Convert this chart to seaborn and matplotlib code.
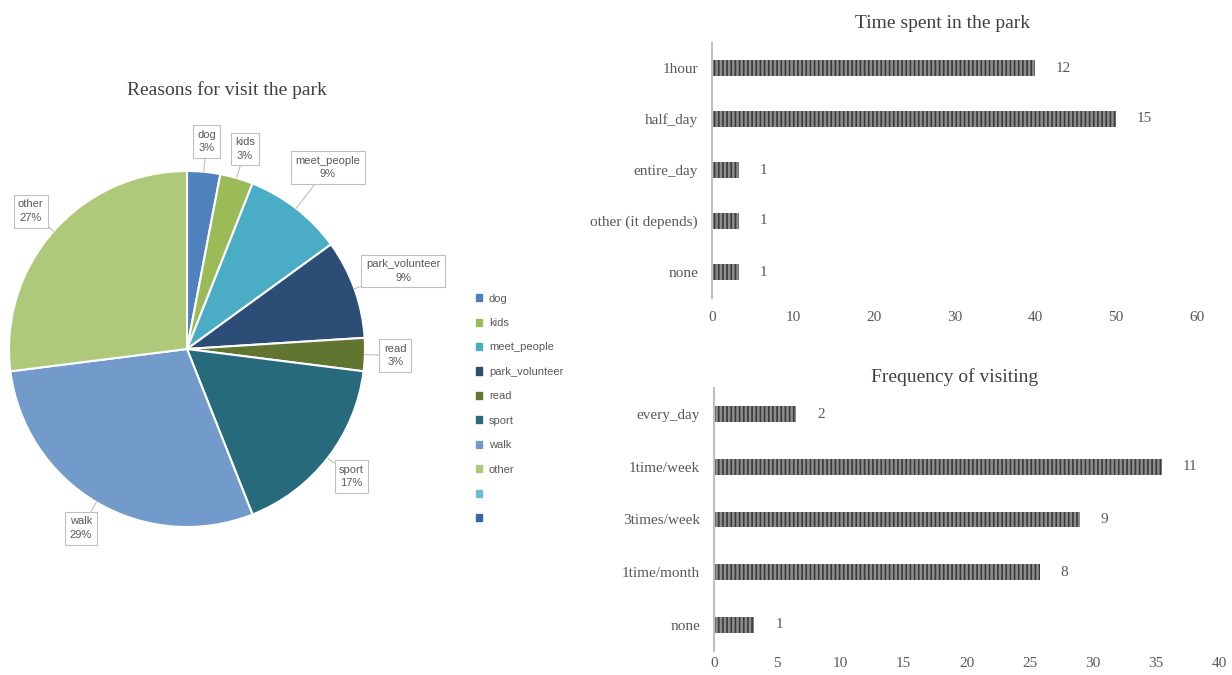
import numpy as np
import matplotlib
matplotlib.use("Agg")
import matplotlib.pyplot as plt
import matplotlib.patches as mpatches
import pandas as pd
import seaborn as sns

# ── data ─────────────────────────────────────────────────────────────────────
reasons = ["dog", "kids", "meet_people", "park_volunteer", "read", "sport", "walk", "other"]
reason_pct = [3, 3, 9, 9, 3, 17, 29, 27]
reason_colors = ["#4F81BD", "#9BBB59", "#4BACC6", "#2C4D75", "#5F7530", "#276A7C", "#729ACA", "#AFC97A"]
extra_legend_colors = ["#6CBCD3", "#3566A6"]

time_cats = ["1hour", "half_day", "entire_day", "other (it depends)", "none"]
time_counts = [12, 15, 1, 1, 1]
time_pct = [40.0, 50.0, 3.3, 3.3, 3.3]

freq_cats = ["every_day", "1time/week", "3times/week", "1time/month", "none"]
freq_counts = [2, 11, 9, 8, 1]
freq_pct = [6.5, 35.5, 29.0, 25.8, 3.2]

# ── style ────────────────────────────────────────────────────────────────────
sns.set_theme(style="white")
plt.rcParams["font.family"] = ["DejaVu Sans"]
plt.rcParams["hatch.linewidth"] = 1.2
TXT = "#595959"
SERIF = "Liberation Serif"
SANS = "Liberation Sans"

fig = plt.figure(figsize=(12.32, 6.75), dpi=100)
W, H = 1232, 675

# ── pie ──────────────────────────────────────────────────────────────────────
ax_pie = fig.add_axes([9 / W, 1 - 527 / H, 356 / W, 356 / H])
wedges, _ = ax_pie.pie(
    reason_pct, colors=reason_colors, startangle=90, counterclock=False,
    wedgeprops=dict(edgecolor="white", linewidth=1.5),
)
ax_pie.set_xlim(-1, 1)
ax_pie.set_ylim(-1, 1)
ax_pie.set_aspect("equal")
ax_pie.axis("off")

for w, name, pct in zip(wedges, reasons, reason_pct):
    mid = np.deg2rad((w.theta1 + w.theta2) / 2)
    r = 1.17 if len(name) <= 5 else 1.29
    ax_pie.annotate(
        f"{name}\n{pct}%",
        xy=(np.cos(mid), np.sin(mid)),
        xytext=(r * np.cos(mid), r * np.sin(mid)),
        ha="center", va="center", fontsize=8, color=TXT, family=SANS,
        linespacing=1.45,
        bbox=dict(boxstyle="square,pad=0.4", fc="white", ec="#BFBFBF", lw=0.8),
        arrowprops=dict(arrowstyle="-", color="#BFBFBF", lw=0.8, shrinkA=0, shrinkB=0),
    )

fig.text(227 / W, 1 - 90 / H, "Reasons for visit the park", ha="center", va="center",
         fontsize=14, color="#404040", family=SERIF)

handles = [mpatches.Patch(color=c) for c in reason_colors + extra_legend_colors]
labels = reasons + ["", ""]
leg = fig.legend(
    handles, labels, loc="upper left", bbox_to_anchor=(470 / W, 1 - 288 / H),
    frameon=False, handlelength=0.6, handleheight=0.6, handletextpad=0.6,
    labelspacing=1.3, borderpad=0, prop=dict(family=SANS, size=8),
)
for t in leg.get_texts():
    t.set_color(TXT)


# ── bar charts ───────────────────────────────────────────────────────────────
def hbar(rect, cats, pct, counts, xmax, step, title, title_y, xpad):
    ax = fig.add_axes(rect)
    df = pd.DataFrame({"cat": cats, "pct": pct})
    sns.barplot(data=df, y="cat", x="pct", orient="h", width=0.3, ax=ax,
                color="#8C8C8C", saturation=1)
    for p in ax.patches:
        p.set_hatch("||||")
        p.set_edgecolor("#3A3A3A")
        p.set_linewidth(0)
    ax.bar_label(ax.containers[0], labels=[str(c) for c in counts], padding=15,
                 fontsize=11, color=TXT, family=SERIF)
    ax.set_xlim(0, xmax)
    ax.set_ylim(len(cats) - 0.5, -0.5)
    ax.set_xticks(np.arange(0, xmax + 1, step))
    ax.set_xlabel("")
    ax.set_ylabel("")
    for s in ["top", "right", "bottom"]:
        ax.spines[s].set_visible(False)
    ax.spines["left"].set_color("#BFBFBF")
    ax.spines["left"].set_linewidth(1.5)
    ax.tick_params(axis="x", length=0, pad=xpad, labelsize=11, labelcolor=TXT)
    ax.tick_params(axis="y", length=0, pad=10, labelsize=11, labelcolor=TXT)
    for t in ax.get_xticklabels() + ax.get_yticklabels():
        t.set_family(SERIF)
    fig.text(rect[0] + rect[2] / 2 - 0.01, title_y, title, ha="center", va="center",
             fontsize=14, color="#404040", family=SERIF)
    return ax


hbar([712 / W, 1 - 297.5 / H, 485 / W, 255 / H], time_cats, time_pct, time_counts,
     60, 10, "Time spent in the park", 1 - 24 / H, 10)
hbar([714 / W, 1 - 651 / H, 505 / W, 263 / H], freq_cats, freq_pct, freq_counts,
     40, 5, "Frequency of visiting", 1 - 377 / H, 4)

plt.savefig("out.png", dpi=100)
plt.close()
